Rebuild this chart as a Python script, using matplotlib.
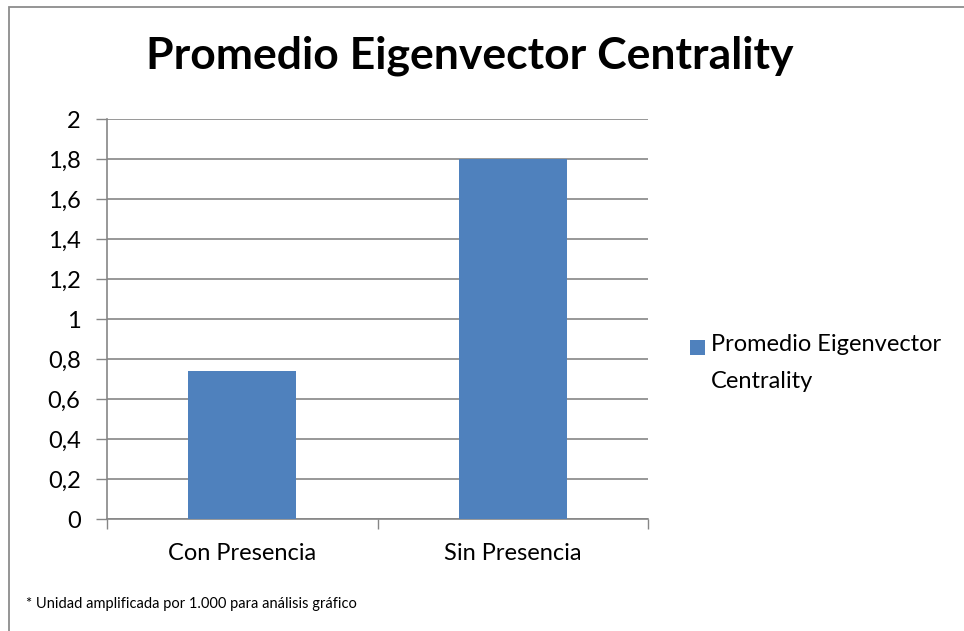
import matplotlib
matplotlib.use("Agg")
import matplotlib.pyplot as plt
from matplotlib.patches import Rectangle

categories = ["Con Presencia", "Sin Presencia"]
values = [0.74, 1.80]
series_name = "Promedio Eigenvector\nCentrality"
yticks = [0, 0.2, 0.4, 0.6, 0.8, 1.0, 1.2, 1.4, 1.6, 1.8, 2.0]
ytick_labels = ["0", "0,2", "0,4", "0,6", "0,8", "1", "1,2", "1,4", "1,6", "1,8", "2"]
title = "Promedio Eigenvector Centrality"
footnote = "* Unidad amplificada por 1.000 para análisis gráfico"

FONT = "Lato"
GRID = "#868686"
BAR = "#4F81BD"
FS = 17

W, H = 964, 631
fig = plt.figure(figsize=(W / 100, H / 100), dpi=100)
fig.patch.set_facecolor("white")

# chart frame (clipped at right/bottom edge)
fig.add_artist(Rectangle((9 / W, -0.05), 1.1, 1 - 6.5 / H + 0.05,
                         transform=fig.transFigure, fill=False,
                         edgecolor="#8c8c8c", linewidth=1.3))

ax = fig.add_axes([107 / W, 1 - 519 / H, (648 - 107) / W, (519 - 119) / H])
x = list(range(len(categories)))
ax.bar(x, values, width=0.4, color=BAR, zorder=3)
ax.set_xlim(-0.5, len(categories) - 0.5)
ax.set_ylim(0, 2)

ax.set_yticks(yticks)
ax.set_yticklabels(ytick_labels, fontfamily=FONT, fontsize=FS)
ax.set_xticks(x)
ax.set_xticklabels(categories, fontfamily=FONT, fontsize=FS)
ax.set_xticks([-0.5, 0.5, 1.5], minor=True)
ax.tick_params(axis="x", which="major", length=0, pad=17)
ax.tick_params(axis="x", which="minor", length=7, width=1, color=GRID, direction="out")
ax.tick_params(axis="y", length=8, width=1, color=GRID, direction="out", pad=11)

for s in ["top", "right"]:
    ax.spines[s].set_visible(False)
for s in ["left", "bottom"]:
    ax.spines[s].set_color(GRID)
    ax.spines[s].set_linewidth(1.2)
ax.grid(axis="y", color=GRID, linewidth=1.2, zorder=0)
ax.set_axisbelow(True)

fig.text(470 / W, 1 - 56 / H, title, ha="center", va="center",
         fontfamily=FONT, fontweight="bold", fontsize=32)

# legend: colour key aligned with the first line of the series name
fig.add_artist(Rectangle((690 / W, 1 - 355 / H), 15 / W, 15 / H,
                         transform=fig.transFigure, facecolor=BAR, edgecolor="none"))
fig.text(711 / W, 1 - 334 / H, series_name, ha="left", va="top",
         fontfamily=FONT, fontsize=FS, linespacing=1.95)

fig.text(26 / W, 1 - 604 / H, footnote, ha="left", va="center",
         fontfamily=FONT, fontsize=10.5)

fig.savefig("out.png", dpi=100)
